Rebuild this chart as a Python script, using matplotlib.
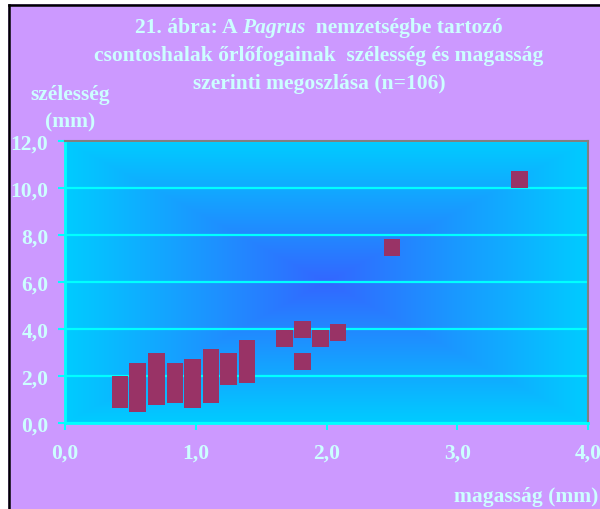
import numpy as np
import matplotlib
matplotlib.use("Agg")
import matplotlib.pyplot as plt
from matplotlib.patches import Rectangle
from matplotlib.lines import Line2D

# magasság (mm) values, one per plotted point
magassag = [0.42, 0.42, 0.42, 0.42,
            0.555, 0.555, 0.555, 0.555, 0.555, 0.555,
            0.70, 0.70, 0.70, 0.70, 0.70, 0.70,
            0.84, 0.84, 0.84, 0.84,
            0.975, 0.975, 0.975, 0.975, 0.975, 0.975,
            1.115, 1.115, 1.115, 1.115, 1.115, 1.115,
            1.25, 1.25, 1.25,
            1.39, 1.39, 1.39, 1.39, 1.39,
            1.68, 1.815, 1.815, 1.955, 2.09, 2.50, 3.475]
# szélesség (mm) values
szelesseg = [0.97, 1.25, 1.39, 1.67,
             0.83, 1.11, 1.39, 1.67, 1.95, 2.20,
             1.11, 1.39, 1.67, 1.95, 2.22, 2.62,
             1.22, 1.53, 1.81, 2.20,
             0.97, 1.25, 1.53, 1.81, 2.09, 2.36,
             1.22, 1.53, 1.81, 2.09, 2.36, 2.78,
             1.95, 2.22, 2.62,
             2.07, 2.36, 2.64, 2.92, 3.20,
             3.60, 2.62, 3.98, 3.60, 3.85, 7.47, 10.36]

xticks = [0.0, 1.0, 2.0, 3.0, 4.0]
yticks = [0.0, 2.0, 4.0, 6.0, 8.0, 10.0, 12.0]

purple = '#CC99FF'
txtcol = '#CCFFFF'
cyan = '#00FFFF'
serif = 'Liberation Serif'
fs = 15.5

fig = plt.figure(figsize=(6, 5.1), dpi=100, facecolor=purple)

# white margin and black frame line (left and top)
fig.patches.append(Rectangle((0, 0), 8/600, 1, transform=fig.transFigure,
                             facecolor='white', edgecolor='none'))
fig.patches.append(Rectangle((0, 1-5/510), 1, 5/510, transform=fig.transFigure,
                             facecolor='white', edgecolor='none'))
fig.lines.append(Line2D([9/600, 9/600], [0, 1-6/510], transform=fig.transFigure,
                        color='black', lw=1.8))
fig.lines.append(Line2D([9/600, 1], [1-6/510, 1-6/510], transform=fig.transFigure,
                        color='black', lw=1.8))

ax = fig.add_axes([65/600, 86/510, 523/600, 282/510])

# rectangular "from center" gradient background
n = 400
u = np.linspace(-1, 1, n)
U, V = np.meshgrid(u, u)
t = np.maximum(np.abs(U), np.abs(V))
c0 = np.array([0x33, 0x66, 0xFF]) / 255.0
c1 = np.array([0x00, 0xCC, 0xFF]) / 255.0
img = c0[None, None, :] * (1 - t[..., None]) + c1[None, None, :] * t[..., None]
ax.imshow(img, extent=[0, 4, 0, 12], aspect='auto', zorder=0, origin='lower')

ax.set_xlim(0, 4)
ax.set_ylim(0, 12)
ax.set_axisbelow(True)
ax.yaxis.grid(True, color=cyan, lw=1.6)

ax.scatter(magassag, szelesseg, marker='s', s=140, color='#993366',
           edgecolors='none', zorder=3, clip_on=False)

ax.set_xticks(xticks)
ax.set_yticks(yticks)
ax.set_xticklabels([('%.1f' % v).replace('.', ',') for v in xticks])
ax.set_yticklabels([('%.1f' % v).replace('.', ',') for v in yticks])
ax.tick_params(axis='x', colors=cyan, length=5, width=1.5, pad=9,
               labelcolor=txtcol, labelsize=fs)
ax.tick_params(axis='y', colors=cyan, length=5, width=1.5, pad=7,
               labelcolor=txtcol, labelsize=fs)
for lab in ax.get_xticklabels() + ax.get_yticklabels():
    lab.set_fontfamily(serif)
    lab.set_fontweight('bold')

for s in ['left', 'bottom']:
    ax.spines[s].set_color(cyan)
    ax.spines[s].set_linewidth(2)
for s in ['top', 'right']:
    ax.spines[s].set_color('#808080')
    ax.spines[s].set_linewidth(1.5)

tkw = dict(family=serif, weight='bold', color=txtcol, fontsize=fs)

# title, first line built from pieces for the italic genus name
fig.canvas.draw()
r = fig.canvas.get_renderer()
pieces = [("21. ábra: A ", 'normal'), ("Pagrus", 'italic'), ("  nemzetségbe tartozó", 'normal')]
texts = []
for s, st in pieces:
    texts.append(fig.text(0, 477/510, s, style=st, va='baseline', ha='left',
                          transform=None, **tkw))
widths = [tx.get_window_extent(r).width for tx in texts]
x0 = 319 - sum(widths) / 2
for tx, w in zip(texts, widths):
    tx.set_position((x0, 477))
    x0 += w
fig.text(319/600, 449/510, "csontoshalak őrlőfogainak  szélesség és magasság",
         ha='center', va='baseline', **tkw)
fig.text(319/600, 421/510, "szerinti megoszlása (n=106)",
         ha='center', va='baseline', **tkw)

fig.text(70/600, 410/510, "szélesség", ha='center', va='baseline', **tkw)
fig.text(70/600, 383/510, "(mm)", ha='center', va='baseline', **tkw)
fig.text(598/600, 8/510, "magasság (mm)", ha='right', va='baseline', **tkw)

fig.savefig('out.png', dpi=100, facecolor=purple)
